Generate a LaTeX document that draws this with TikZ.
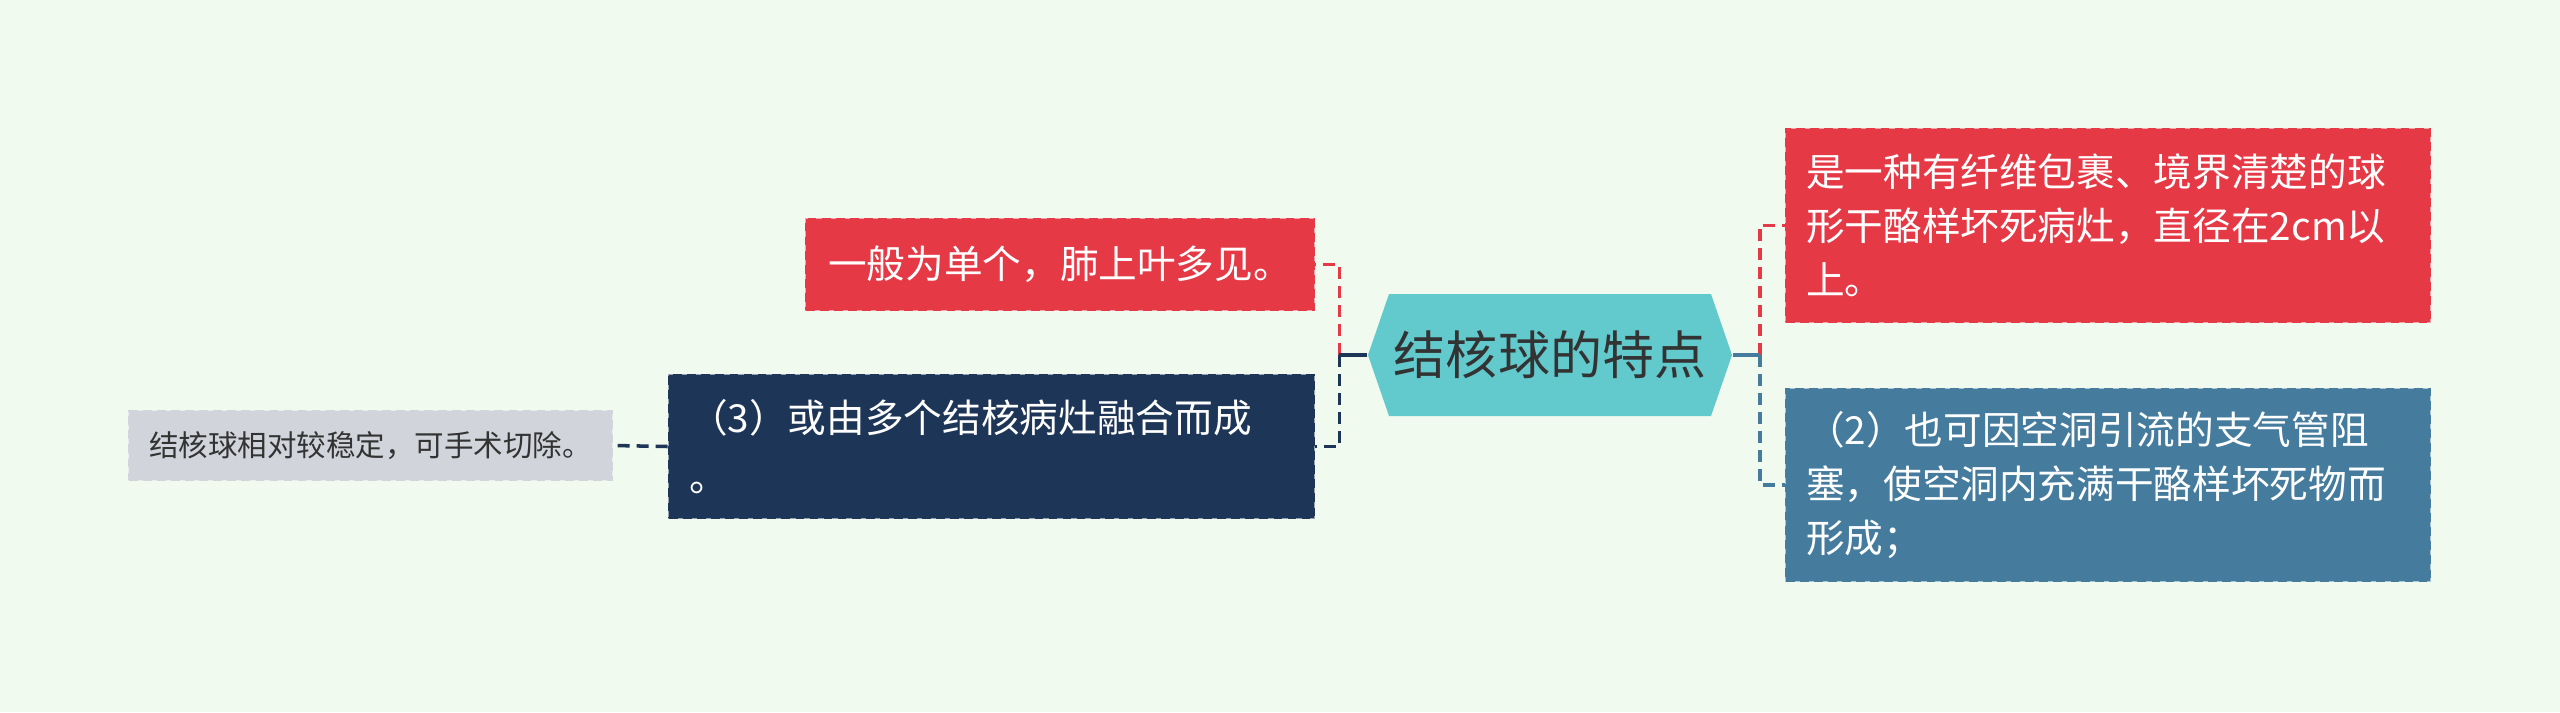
\documentclass[tikz,border=0pt]{standalone}
\usepackage{fontspec}
\setmainfont{Noto Sans CJK SC}
\usepackage{tikz}
\usetikzlibrary{shapes.symbols}
\definecolor{bgcol}{HTML}{F1FAEE}
\definecolor{redcol}{HTML}{E63946}
\definecolor{navycol}{HTML}{1D3557}
\definecolor{bluecol}{HTML}{457B9D}
\definecolor{tealcol}{HTML}{62C9CC}
\definecolor{graycol}{HTML}{D1D5DB}
\definecolor{inkcol}{HTML}{333333}
\tikzstyle{topicbox} = [signal, signal to=west and east, signal pointer angle=142, minimum width=3.64cm, minimum height=1.22cm, inner sep=0pt, fill=tealcol, text=inkcol, font=\fontsize{14.8pt}{18pt}\selectfont]
\tikzstyle{leaf} = [rectangle, inner xsep=0.2cm, inner ysep=0pt, line width=0.8pt, dash pattern=on 2.5pt off 1.5pt, text=white, font=\fontsize{11pt}{15.3pt}\selectfont]
\tikzstyle{redleaf} = [leaf, fill=redcol, draw=redcol, preaction={draw=white!55!redcol, solid}]
\tikzstyle{navyleaf} = [leaf, fill=navycol, draw=navycol, preaction={draw=white!55!navycol, solid}]
\tikzstyle{blueleaf} = [leaf, fill=bluecol, draw=bluecol, preaction={draw=white!55!bluecol, solid}]
\tikzstyle{grayleaf} = [leaf, fill=graycol, draw=graycol, preaction={draw=white!55!graycol, solid}, text=inkcol, font=\fontsize{8.4pt}{10pt}\selectfont]
\tikzstyle{link} = [line width=1pt, dash pattern=on 3.4pt off 2pt]
\tikzstyle{stub} = [line width=1pt]

\begin{document}
\begin{tikzpicture}[node distance=5cm]
                \fill [bgcol] (0,0) rectangle (25.6,-7.12);
                \useasboundingbox (0,0) rectangle (25.6,-7.12);
                \node (topic) [topicbox] at (15.50,-3.55) {结核球的特点};
                \node (n1) [redleaf, left of=topic, xshift=0.10cm, yshift=0.905cm, minimum width=5.08cm, minimum height=0.91cm] {一般为单个，肺上叶多见。};
                \node (n3) [navyleaf, left of=topic, xshift=-0.585cm, yshift=-0.915cm, minimum width=6.45cm, minimum height=1.43cm, text width=6.05cm, align=left, font=\fontsize{11pt}{17pt}\selectfont] {（3）或由多个结核病灶融合而成\\。};
                \node (n3a) [grayleaf, left of=n3, xshift=-1.21cm, yshift=0.01cm, minimum width=4.83cm, minimum height=0.69cm] {结核球相对较稳定，可手术切除。};
                \node (n2) [redleaf, right of=topic, xshift=0.58cm, yshift=1.295cm, minimum width=6.44cm, minimum height=1.93cm, text width=6.04cm, align=left] {是一种有纤维包裹、境界清楚的球\\形干酪样坏死病灶，直径在2cm以\\上。};
                \node (n4) [blueleaf, right of=topic, xshift=0.58cm, yshift=-1.30cm, minimum width=6.44cm, minimum height=1.92cm, text width=6.04cm, align=left] {（2）也可因空洞引流的支气管阻\\塞，使空洞内充满干酪样坏死物而\\形成；};
                \coordinate (lj) at ([xshift=-0.28cm]topic.west);
                \coordinate (rj) at ([xshift=0.27cm]topic.east);
                \draw [link, redcol] (lj) |- (n1.east);
                \draw [link, navycol] (lj) |- (n3.east);
                \draw [stub, navycol] (topic.west) -- (lj);
                \draw [link, navycol] (n3.west) -- (n3a.east);
                \draw [link, redcol] (rj) |- (n2.west);
                \draw [link, bluecol] (rj) |- (n4.west);
                \draw [stub, bluecol] (topic.east) -- (rj);
            \end{tikzpicture}
\end{document}
